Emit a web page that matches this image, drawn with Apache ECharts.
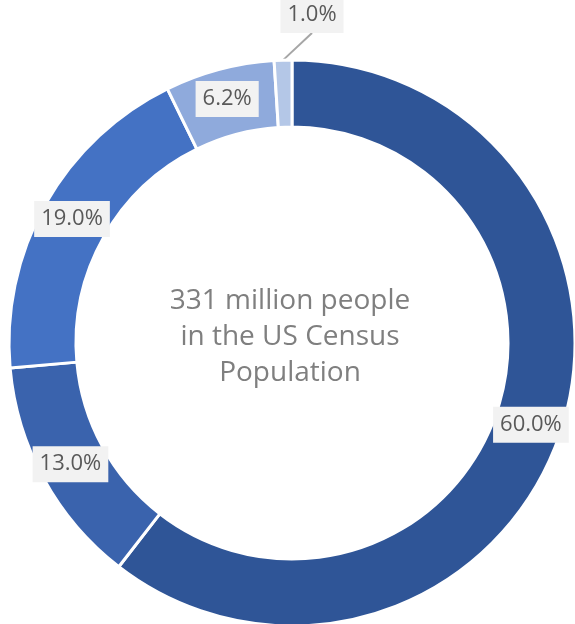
<!DOCTYPE html>
<html>
<head>
<meta charset="utf-8">
<script src="https://cdn.jsdelivr.net/npm/echarts@6/dist/echarts.min.js"></script>
<style>
html, body { margin: 0; padding: 0; background: #fff; }
#chartDisplay { width: 575px; height: 624px; }
</style>
</head>
<body>
<div id="chartDisplay"></div>
<script>
// slice order: clockwise from 12 o'clock
var categories = ['Group A', 'Group B', 'Group C', 'Group D', 'Group E'];
var values = [60.0, 13.0, 19.0, 6.2, 1.0];
var colorList = ['#2F5597', '#3A63AD', '#4472C4', '#8FAADC', '#B4C7E7'];
var centerLines = ['331 million people', 'in the US Census', 'Population'];

var chart = echarts.init(document.getElementById('chartDisplay'));

var pieData = [];
for (var i = 0; i < values.length; i++) {
	var item = {
		name: categories[i],
		value: values[i],
		itemStyle: { color: colorList[i] }
	};
	// the tiny slice gets its label outside with a leader line
	if (i == values.length - 1) {
		item.label = { position: 'outside' };
		item.labelLine = { show: true };
	}
	pieData.push(item);
}

var option = {
	backgroundColor: '#FFF',
	animation: false,
	graphic: [{
		type: 'text',
		x: 290,
		y: 337,
		style: {
			text: centerLines.join('\n'),
			textAlign: 'center',
			textVerticalAlign: 'middle',
			fill: '#7F7F7F',
			font: '28px "Open Sans", sans-serif',
			lineHeight: 36
		}
	}],
	series: [{
		type: 'pie',
		center: [292, 343],
		radius: [216, 283],
		startAngle: 90,
		clockwise: true,
		avoidLabelOverlap: false,
		itemStyle: {
			borderColor: '#FFF',
			borderWidth: 3
		},
		label: {
			show: true,
			position: 'inside',
			formatter: function (p) {
				return p.value.toFixed(1) + '%';
			},
			color: '#595959',
			fontFamily: 'Open Sans',
			fontSize: 22,
			backgroundColor: '#F2F2F2',
			padding: [8, 7, 6, 7]
		},
		labelLine: {
			show: false,
			length: 22,
			length2: 0,
			lineStyle: { color: '#A6A6A6', width: 2 }
		},
		labelLayout: function (params) {
			if (params.dataIndex == values.length - 1) {
				return { x: 312, y: 15, align: 'center', verticalAlign: 'middle' };
			}
		},
		data: pieData
	}]
};

chart.setOption(option);
</script>
</body>
</html>
